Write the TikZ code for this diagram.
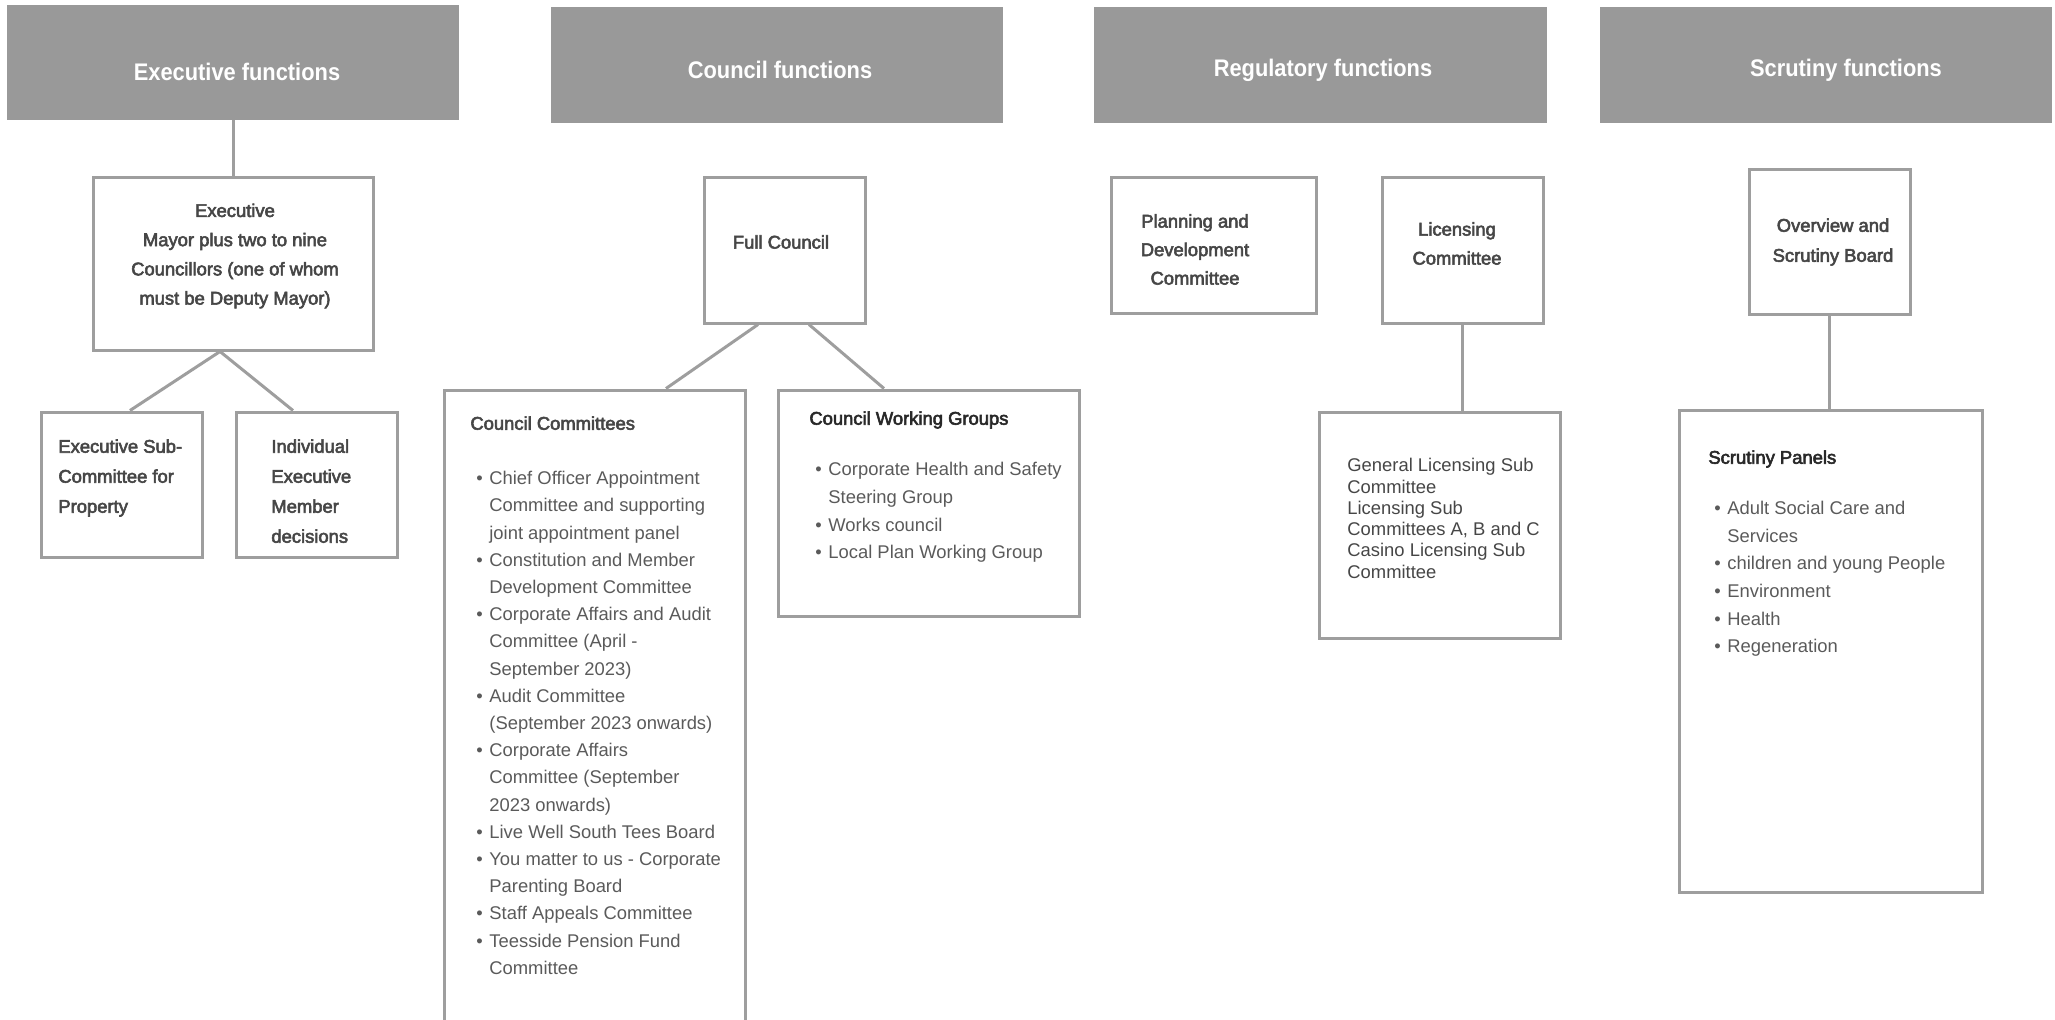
\documentclass[tikz,border=0pt]{standalone}
\usepackage{fontspec}
\usepackage{xcolor}
\usepackage{tikz}
\setmainfont{Liberation Sans}
\newfontfamily\headfont{Liberation Sans}[FakeStretch=0.91]
\newfontfamily\medfont{Liberation Sans}[FakeBold=3]
\definecolor{headgray}{RGB}{153,153,153}
\definecolor{linegray}{RGB}{158,158,158}
\definecolor{textgray}{RGB}{90,90,90}
\definecolor{titlegray}{RGB}{70,70,70}
\definecolor{inkgray}{RGB}{40,40,40}
\newcommand{\itemdot}{\hspace*{3pt}\makebox[6.5pt][l]{\textbullet}}
\newcommand{\itemcont}{\hspace*{9.5pt}}

\begin{document}
\begin{tikzpicture}[
  x=0.5pt, y=-0.5pt,
  head/.style={fill=headgray, inner sep=0pt, minimum width=226pt, minimum height=58pt},
  headtxt/.style={inner sep=0pt, text=white, font=\headfont\bfseries\fontsize{12}{14}\selectfont},
  box/.style={draw=linegray, line width=1.5pt, inner sep=0pt},
  link/.style={draw=linegray, line width=1.5pt},
  ttl/.style={inner sep=0pt, align=center, text=titlegray,
              font=\medfont\fontsize{9.2}{14.6}\selectfont},
  txt/.style={inner sep=0pt, align=left, anchor=north west, text=textgray,
              font=\fontsize{9.2}{13.6}\selectfont}
]
\useasboundingbox (0,0) rectangle (2055,1019);
\clip (0,0) rectangle (2055,1019);

% Headers
\node[head, minimum height=57.5pt] (hexec) at (233,62.5) {};
\node[headtxt] (hexec_t) at (237,72) {Executive functions};
\node[head] (hcouncil) at (777,65) {};
\node[headtxt] (hcouncil_t) at (780,70) {Council functions};
\node[head, minimum width=226.5pt] (hreg) at (1320.5,65) {};
\node[headtxt] (hreg_t) at (1323,70) {Regulatory functions};
\node[head] (hscr) at (1826,65) {};
\node[headtxt] (hscr_t) at (1846,70) {Scrutiny functions};

% Executive functions
\node[box, minimum width=140pt, minimum height=86.5pt] (exec) at (233,263.5) {};
\node[ttl] (exec_t) at (235,256) {Executive\\Mayor plus two to nine\\Councillors (one of whom\\must be Deputy Mayor)};
\node[box, minimum width=80.5pt, minimum height=72.5pt] (sub1) at (121.5,484.5) {};
\node[ttl, align=left, anchor=north west, font=\medfont\fontsize{9.2}{15}\selectfont] (sub1_t) at (58,439) {Executive Sub-\\Committee for\\Property};
\node[box, minimum width=80.5pt, minimum height=72.5pt] (sub2) at (316.5,484.5) {};
\node[ttl, align=left, anchor=north west, font=\medfont\fontsize{9.2}{15}\selectfont] (sub2_t) at (271,439) {Individual\\Executive\\Member\\decisions};

\draw[link] (hexec) -- (exec);
\draw[link] ([xshift=-6.5pt]exec.south) -- ([xshift=4.25pt]sub1.north);
\draw[link] ([xshift=-6.5pt]exec.south) -- ([xshift=-11.75pt]sub2.north);

% Council functions
\node[box, minimum width=80.5pt, minimum height=73pt] (fc) at (784.5,250) {};
\node[ttl] (fc_t) at (781,242) {Full Council};
\node[box, minimum width=150.5pt, minimum height=320pt] (cc) at (594.5,710) {};
\node[txt] (cc_t) at (470,416) {{\medfont\color{titlegray}Council Committees}\\[13.9pt]
\itemdot Chief Officer Appointment\\
\itemcont Committee and supporting\\
\itemcont joint appointment panel\\
\itemdot Constitution and Member\\
\itemcont Development Committee\\
\itemdot Corporate Affairs and Audit\\
\itemcont Committee (April -\\
\itemcont September 2023)\\
\itemdot Audit Committee\\
\itemcont (September 2023 onwards)\\
\itemdot Corporate Affairs\\
\itemcont Committee (September\\
\itemcont 2023 onwards)\\
\itemdot Live Well South Tees Board\\
\itemdot You matter to us - Corporate\\
\itemcont Parenting Board\\
\itemdot Staff Appeals Committee\\
\itemdot Teesside Pension Fund\\
\itemcont Committee};
\node[box, minimum width=150.5pt, minimum height=113pt] (cwg) at (928.5,503) {};
\node[txt, font=\fontsize{9.2}{13.8}\selectfont] (cwg_t) at (809,411) {{\medfont\color{inkgray}Council Working Groups}\\[11.8pt]
\itemdot Corporate Health and Safety\\
\itemcont Steering Group\\
\itemdot Works council\\
\itemdot Local Plan Working Group};

\draw[link] ([xshift=-13.25pt]fc.south) -- ([xshift=35.75pt]cc.north);
\draw[link] ([xshift=12.25pt]fc.south) -- ([xshift=-22.25pt]cwg.north);

% Regulatory functions
\node[box, minimum width=102.5pt, minimum height=68pt] (plan) at (1213.5,245) {};
\node[ttl, font=\medfont\fontsize{9.2}{14.25}\selectfont] (plan_t) at (1195,249.5) {Planning and\\Development\\Committee};
\node[box, minimum width=80.5pt, minimum height=73pt] (lic) at (1462.5,250) {};
\node[ttl, font=\medfont\fontsize{9.2}{14.5}\selectfont] (lic_t) at (1457,243.5) {Licensing\\Committee};
\node[box, minimum width=120.5pt, minimum height=113pt] (gen) at (1439.5,525) {};
\node[txt, text=titlegray, font=\fontsize{9.2}{10.65}\selectfont] (gen_t) at (1347,458) {General Licensing Sub\\Committee\\Licensing Sub\\Committees A, B and C\\Casino Licensing Sub\\Committee};

\draw[link] (lic) -- (lic |- gen.north);

% Scrutiny functions
\node[box, minimum width=80.5pt, minimum height=72.5pt] (ovw) at (1829.5,241.5) {};
\node[ttl, font=\medfont\fontsize{9.2}{15}\selectfont] (ovw_t) at (1833,242) {Overview and\\Scrutiny Board};
\node[box, minimum width=151.5pt, minimum height=241pt] (pan) at (1830.5,651) {};
\node[txt, font=\fontsize{9.2}{13.8}\selectfont] (pan_t) at (1708,450) {{\medfont\color{inkgray}Scrutiny Panels}\\[11.7pt]
\itemdot Adult Social Care and\\
\itemcont Services\\
\itemdot children and young People\\
\itemdot Environment\\
\itemdot Health\\
\itemdot Regeneration};

\draw[link] (ovw) -- (ovw |- pan.north);

\end{tikzpicture}
\end{document}
